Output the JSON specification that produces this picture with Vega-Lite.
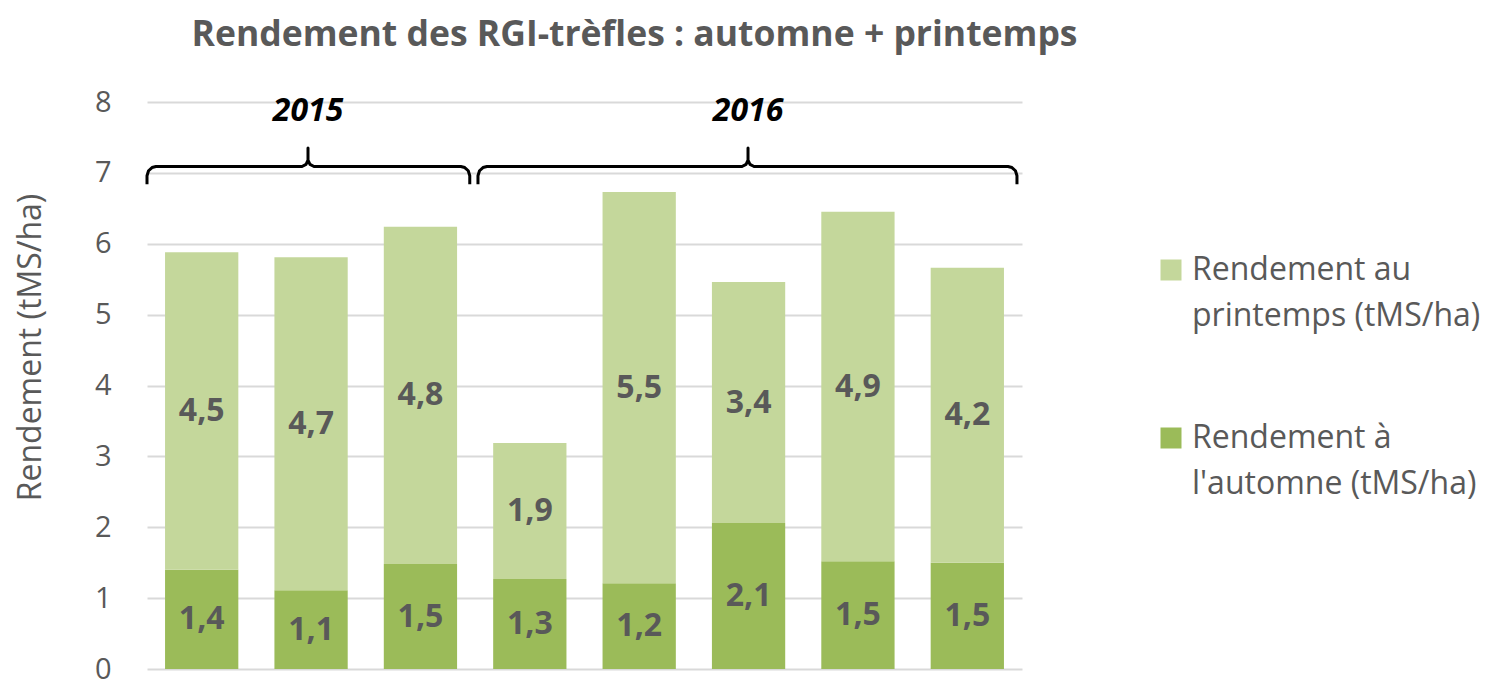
{
  "$schema": "https://vega.github.io/schema/vega-lite/v6.json",
  "autosize": "none",
  "width": 875,
  "height": 567,
  "padding": {"left": 147, "top": 102, "right": 470, "bottom": 10},
  "title": {
    "text": "Rendement des RGI-trèfles : automne + printemps",
    "fontSize": 35.5,
    "fontWeight": "bold",
    "color": "#595959",
    "font": "Open Sans",
    "anchor": "middle",
    "dx": 50,
    "offset": 35
  },
  "config": {
    "font": "Open Sans",
    "view": {"stroke": null},
    "locale": {"number": {"decimal": ",", "thousands": " ", "grouping": [3], "currency": ["", " €"]}}
  },
  "datasets": {
    "rend": [
      {"bar": 1, "saison": "Rendement à l'automne (tMS/ha)", "v": 1.40},
      {"bar": 1, "saison": "Rendement au printemps (tMS/ha)", "v": 4.48},
      {"bar": 2, "saison": "Rendement à l'automne (tMS/ha)", "v": 1.11},
      {"bar": 2, "saison": "Rendement au printemps (tMS/ha)", "v": 4.70},
      {"bar": 3, "saison": "Rendement à l'automne (tMS/ha)", "v": 1.48},
      {"bar": 3, "saison": "Rendement au printemps (tMS/ha)", "v": 4.76},
      {"bar": 4, "saison": "Rendement à l'automne (tMS/ha)", "v": 1.27},
      {"bar": 4, "saison": "Rendement au printemps (tMS/ha)", "v": 1.92},
      {"bar": 5, "saison": "Rendement à l'automne (tMS/ha)", "v": 1.21},
      {"bar": 5, "saison": "Rendement au printemps (tMS/ha)", "v": 5.52},
      {"bar": 6, "saison": "Rendement à l'automne (tMS/ha)", "v": 2.06},
      {"bar": 6, "saison": "Rendement au printemps (tMS/ha)", "v": 3.40},
      {"bar": 7, "saison": "Rendement à l'automne (tMS/ha)", "v": 1.52},
      {"bar": 7, "saison": "Rendement au printemps (tMS/ha)", "v": 4.93},
      {"bar": 8, "saison": "Rendement à l'automne (tMS/ha)", "v": 1.50},
      {"bar": 8, "saison": "Rendement au printemps (tMS/ha)", "v": 4.16}
    ],
    "brace": [
      {"g": "2015", "i": 1, "x": 0, "y": 6.84},
      {"g": "2015", "i": 2, "x": 0, "y": 6.96},
      {"g": "2015", "i": 3, "x": 0.014, "y": 7.03},
      {"g": "2015", "i": 4, "x": 0.046, "y": 7.075},
      {"g": "2015", "i": 5, "x": 0.082, "y": 7.09},
      {"g": "2015", "i": 6, "x": 1.417, "y": 7.09},
      {"g": "2015", "i": 7, "x": 1.454, "y": 7.12},
      {"g": "2015", "i": 8, "x": 1.472, "y": 7.18},
      {"g": "2015", "i": 9, "x": 1.472, "y": 7.35},
      {"g": "2015", "i": 10, "x": 1.472, "y": 7.18},
      {"g": "2015", "i": 11, "x": 1.49, "y": 7.12},
      {"g": "2015", "i": 12, "x": 1.527, "y": 7.09},
      {"g": "2015", "i": 13, "x": 2.869, "y": 7.09},
      {"g": "2015", "i": 14, "x": 2.905, "y": 7.075},
      {"g": "2015", "i": 15, "x": 2.937, "y": 7.03},
      {"g": "2015", "i": 16, "x": 2.951, "y": 6.96},
      {"g": "2015", "i": 17, "x": 2.951, "y": 6.84},
      {"g": "2016", "i": 1, "x": 3.026, "y": 6.84},
      {"g": "2016", "i": 2, "x": 3.026, "y": 6.96},
      {"g": "2016", "i": 3, "x": 3.04, "y": 7.03},
      {"g": "2016", "i": 4, "x": 3.072, "y": 7.075},
      {"g": "2016", "i": 5, "x": 3.108, "y": 7.09},
      {"g": "2016", "i": 6, "x": 5.44, "y": 7.09},
      {"g": "2016", "i": 7, "x": 5.477, "y": 7.12},
      {"g": "2016", "i": 8, "x": 5.495, "y": 7.18},
      {"g": "2016", "i": 9, "x": 5.495, "y": 7.35},
      {"g": "2016", "i": 10, "x": 5.495, "y": 7.18},
      {"g": "2016", "i": 11, "x": 5.513, "y": 7.12},
      {"g": "2016", "i": 12, "x": 5.55, "y": 7.09},
      {"g": "2016", "i": 13, "x": 7.872, "y": 7.09},
      {"g": "2016", "i": 14, "x": 7.908, "y": 7.075},
      {"g": "2016", "i": 15, "x": 7.94, "y": 7.03},
      {"g": "2016", "i": 16, "x": 7.954, "y": 6.96},
      {"g": "2016", "i": 17, "x": 7.954, "y": 6.84}
    ],
    "years": [
      {"g": "2015", "x": 1.472, "y": 7.88},
      {"g": "2016", "x": 5.495, "y": 7.88}
    ]
  },
  "layer": [
    {
      "data": {"name": "rend"},
      "transform": [
        {"stack": "v", "groupby": ["bar"], "sort": [{"field": "saison", "order": "descending"}], "as": ["v0", "v1"]},
        {"calculate": "(datum.v0 + datum.v1) / 2", "as": "mid"}
      ],
      "layer": [
        {
          "mark": {"type": "bar"},
          "encoding": {
            "x": {"field": "bar", "type": "ordinal", "axis": null, "scale": {"paddingInner": 0.33, "paddingOuter": 0.165}},
            "y": {
              "field": "v0", "type": "quantitative",
              "scale": {"domain": [0, 8], "nice": false},
              "axis": {
                "values": [0, 1, 2, 3, 4, 5, 6, 7, 8],
                "format": "d",
                "grid": true, "gridColor": "#D9D9D9", "gridWidth": 2,
                "domain": false, "ticks": false,
                "labelFontSize": 29, "labelColor": "#595959", "labelPadding": 36,
                "title": "Rendement (tMS/ha)", "titleFontSize": 32, "titleFontWeight": "normal",
                "titleColor": "#595959", "titleX": -100, "titleY": 245
              }
            },
            "y2": {"field": "v1"},
            "color": {
              "field": "saison", "type": "nominal",
              "scale": {
                "domain": ["Rendement au printemps (tMS/ha)", "Rendement à l'automne (tMS/ha)"],
                "range": ["#C4D79B", "#9BBB59"]
              },
              "legend": {
                "title": null,
                "orient": "none",
                "legendX": 1008,
                "legendY": 152,
                "symbolType": "square",
                "symbolSize": 441,
                "symbolStrokeWidth": 0,
                "labelFontSize": 32,
                "labelColor": "#595959",
                "labelLimit": 400,
                "labelOffset": 5,
                "rowPadding": 90,
                "labelExpr": "datum.label == 'Rendement au printemps (tMS/ha)' ? ['Rendement au', 'printemps (tMS/ha)'] : ['Rendement à', \"l'automne (tMS/ha)\"]",
                "encode": {"labels": {"update": {"lineHeight": {"value": 46}}}}
              }
            }
          }
        },
        {
          "mark": {"type": "text", "fontSize": 32, "fontWeight": "bold", "color": "#595959", "baseline": "middle"},
          "encoding": {
            "x": {"field": "bar", "type": "ordinal"},
            "y": {"field": "mid", "type": "quantitative"},
            "text": {"field": "v", "type": "quantitative", "format": ".1f"}
          }
        }
      ]
    },
    {
      "data": {"name": "brace"},
      "mark": {"type": "line", "color": "black", "strokeWidth": 3, "strokeJoin": "round", "strokeCap": "butt"},
      "encoding": {
        "x": {"field": "x", "type": "quantitative", "axis": null, "scale": {"domain": [0, 8], "nice": false, "zero": false}},
        "y": {"field": "y", "type": "quantitative"},
        "detail": {"field": "g"},
        "order": {"field": "i"}
      }
    },
    {
      "data": {"name": "years"},
      "mark": {"type": "text", "fontSize": 32, "fontWeight": "bold", "fontStyle": "italic", "color": "black", "baseline": "middle"},
      "encoding": {
        "x": {"field": "x", "type": "quantitative", "axis": null, "scale": {"domain": [0, 8], "nice": false, "zero": false}},
        "y": {"field": "y", "type": "quantitative"},
        "text": {"field": "g"}
      }
    }
  ],
  "resolve": {"scale": {"x": "independent"}}
}
